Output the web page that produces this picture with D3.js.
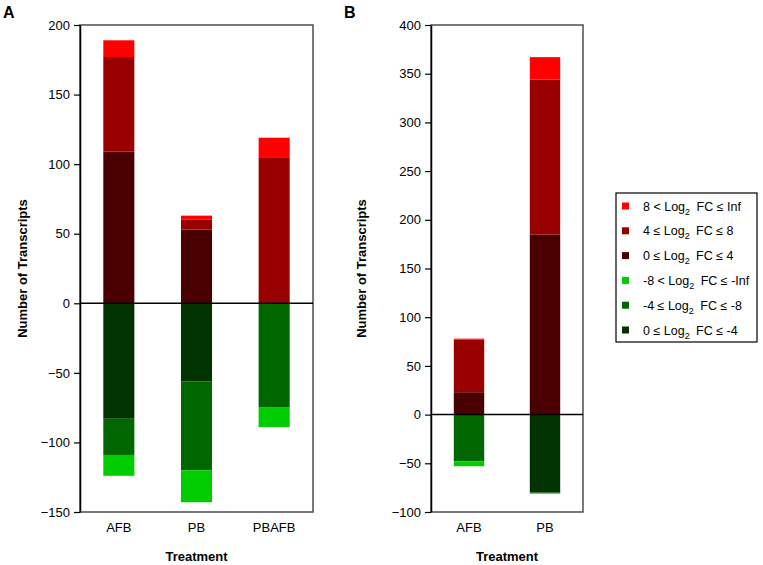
<!DOCTYPE html>
<html><head><meta charset="utf-8">
<script src="https://cdn.jsdelivr.net/npm/d3@7"></script>
<style>body{margin:0;background:#fff;}svg{display:block;font-family:Arial,"Liberation Sans",sans-serif;}</style>
</head><body>
<script>
// Panel A data
const catsA = ["AFB","PB","PBAFB"];
const upA_0_4 = [109, 53, 0];
const upA_4_8 = [68, 7, 105];
const upA_8inf = [12, 3, 14];
const dnA_0_4 = [83, 56, 0];
const dnA_4_8 = [26, 64, 75];
const dnA_8inf = [15, 23, 14];
const ticksA = [200,150,100,50,0,-50,-100,-150];

// Panel B data
const catsB = ["AFB","PB"];
const upB_0_4 = [23, 185];
const upB_4_8 = [54, 159];
const upB_8inf = [1, 23];
const dnB_0_4 = [0, 80];
const dnB_4_8 = [48, 1];
const dnB_8inf = [5, 0];
const ticksB = [400,350,300,250,200,150,100,50,0,-50,-100];

const legendLabels = [
  ["8 < Log","2"," FC ≤ Inf"],
  ["4 ≤ Log","2"," FC ≤ 8"],
  ["0 ≤ Log","2"," FC ≤ 4"],
  ["-8 < Log","2"," FC ≤ -Inf"],
  ["-4 ≤ Log","2"," FC ≤ -8"],
  ["0 ≤ Log","2"," FC ≤ -4"]
];
const colors = ["#ff0000","#990000","#4a0000","#00cc00","#006600","#003300"];

const svg = d3.select("body").append("svg").attr("width",763).attr("height",565);

function panel(cfg){
  const {x0,x1,y0,y1,domain,cats,ticks,up,dn,letter,letterX,titleX} = cfg;
  const x = d3.scaleBand().domain(cats).range([x0,x1]).paddingInner(0.6).paddingOuter(0.3);
  const y = d3.scaleLinear().domain(domain).range([y1,y0]);
  const g = svg.append("g");
  cats.forEach((c,i)=>{
    let base = 0;
    const upCols = [colors[2],colors[1],colors[0]];
    up.forEach((arr,k)=>{
      const v = arr[i];
      if(v>0){
        g.append("rect").attr("x",x(c)).attr("width",x.bandwidth())
          .attr("y",y(base+v)).attr("height",y(base)-y(base+v)).attr("fill",upCols[k]);
      }
      base += v;
    });
    base = 0;
    const dnCols = [colors[5],colors[4],colors[3]];
    dn.forEach((arr,k)=>{
      const v = arr[i];
      if(v>0){
        g.append("rect").attr("x",x(c)).attr("width",x.bandwidth())
          .attr("y",y(base)).attr("height",y(base-v)-y(base)).attr("fill",dnCols[k]);
      }
      base -= v;
    });
  });
  g.append("rect").attr("x",x0).attr("y",y0).attr("width",x1-x0).attr("height",y1-y0)
    .attr("fill","none").attr("stroke","#4d4d4d").attr("stroke-width",1.5);
  g.append("line").attr("x1",x0).attr("x2",x1).attr("y1",y(0)).attr("y2",y(0))
    .attr("stroke","#000").attr("stroke-width",1.5);
  const ya = g.append("g").attr("transform",`translate(${x0},0)`)
    .call(d3.axisLeft(y).tickValues(ticks).tickSize(6).tickSizeOuter(0).tickPadding(4));
  ya.select(".domain").attr("stroke","#000").attr("stroke-width",1.5);
  ya.selectAll(".tick line").attr("stroke","#000").attr("stroke-width",1.2);
  ya.selectAll(".tick text").attr("font-size",13).attr("fill","#000").attr("font-family","Arial, Liberation Sans, sans-serif");
  const xa = g.append("g").attr("transform",`translate(0,${y1})`)
    .call(d3.axisBottom(x).tickSize(0).tickPadding(11));
  xa.select(".domain").remove();
  xa.selectAll(".tick text").attr("font-size",13).attr("fill","#000").attr("font-family","Arial, Liberation Sans, sans-serif");
  g.append("text").attr("x",(x0+x1)/2).attr("y",561).attr("text-anchor","middle")
    .attr("font-size",13).attr("font-weight","bold").text("Treatment");
  g.append("text").attr("transform",`translate(${titleX},${(y0+y1)/2}) rotate(-90)`)
    .attr("text-anchor","middle").attr("font-size",13).attr("font-weight","bold").text("Number of Transcripts");
  g.append("text").attr("x",letterX).attr("y",18).attr("font-size",16).attr("font-weight","bold").text(letter);
}

panel({x0:80,x1:313,y0:25,y1:512,domain:[-150,200],cats:catsA,ticks:ticksA,
  up:[upA_0_4,upA_4_8,upA_8inf],dn:[dnA_0_4,dnA_4_8,dnA_8inf],letter:"A",letterX:3,titleX:27});
panel({x0:431,x1:583,y0:25,y1:512,domain:[-100,400],cats:catsB,ticks:ticksB,
  up:[upB_0_4,upB_4_8,upB_8inf],dn:[dnB_0_4,dnB_4_8,dnB_8inf],letter:"B",letterX:344,titleX:366});

const lg = svg.append("g");
lg.append("rect").attr("x",616).attr("y",193).attr("width",141).attr("height",149)
  .attr("fill","#fff").attr("stroke","#000").attr("stroke-width",1.2);
legendLabels.forEach((lab,i)=>{
  const cy = 206 + i*24.8;
  lg.append("rect").attr("x",622).attr("y",cy-3.5).attr("width",7).attr("height",7).attr("fill",colors[i]);
  const t = lg.append("text").attr("x",643).attr("y",cy+4.5).attr("font-size",12.5).attr("fill","#000");
  t.append("tspan").text(lab[0]);
  t.append("tspan").attr("font-size",9).attr("dy",4).text(lab[1]);
  t.append("tspan").attr("dy",-4).attr("dx",3).text(lab[2]);
});
</script>
</body></html>
